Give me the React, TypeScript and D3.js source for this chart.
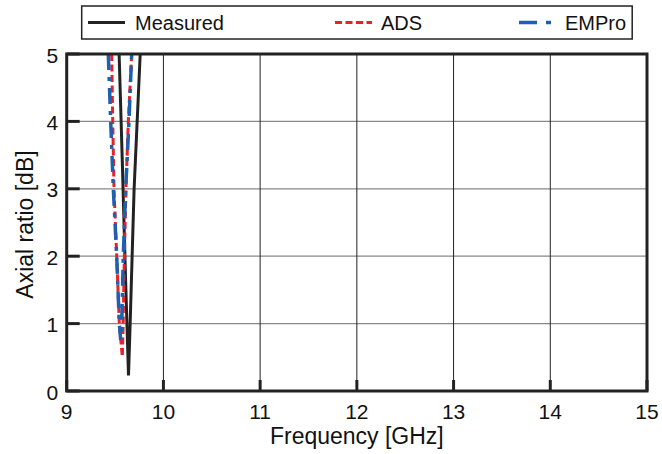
import React from "react";
import * as d3 from "d3";

const xTicks = [9, 10, 11, 12, 13, 14, 15];
const yTicks = [0, 1, 2, 3, 4, 5];

const measuredFreq = [9.542, 9.575, 9.608, 9.639, 9.656, 9.697, 9.76];
const measuredAR = [5, 3.4, 1.7, 0.23, 1, 3, 5];

const adsFreq = [9.465, 9.476, 9.489, 9.517, 9.544, 9.575, 9.584, 9.596, 9.613, 9.637, 9.672];
const adsAR = [5, 4, 3, 2, 1, 0.51, 1, 2, 3, 4, 5];

const emproFreq = [9.43, 9.455, 9.482, 9.517, 9.544, 9.558, 9.569, 9.585, 9.61, 9.644, 9.672];
const emproAR = [5, 4, 3, 2, 1, 0.76, 1, 2, 3, 4, 5];

const W = 662;
const H = 454;
const L = 66.7, R = 647, T = 54, B = 391;

export default function App() {
  const x = d3.scaleLinear().domain([9, 15]).range([L, R]);
  const y = d3.scaleLinear().domain([0, 5]).range([B, T]);
  const line = d3
    .line<[number, number]>()
    .x((d) => x(d[0]))
    .y((d) => y(d[1]));
  const zip = (a: number[], b: number[]) => a.map((v, i) => [v, b[i]] as [number, number]);
  const font = "'Liberation Sans', Arial, Helvetica, sans-serif";
  const red = "#e8202a";
  const blue = "#1f5fb0";
  const dark = "#222";

  return (
    <svg width={W} height={H} style={{ position: "absolute", left: 0, top: 0 }} fontFamily={font}>
      <defs>
        <clipPath id="plotclip">
          <rect x={L} y={T} width={R - L} height={B - T} />
        </clipPath>
      </defs>
      <rect x={0} y={0} width={W} height={H} fill="#fff" />
      {/* grid */}
      {yTicks.slice(1, -1).map((t) => (
        <line key={"gy" + t} x1={L} x2={R} y1={y(t)} y2={y(t)} stroke="#888" strokeWidth={1.3} />
      ))}
      {xTicks.slice(1, -1).map((t) => (
        <line key={"gx" + t} x1={x(t)} x2={x(t)} y1={T} y2={B} stroke={dark} strokeWidth={1} />
      ))}
      {/* ticks */}
      {yTicks.map((t) => (
        <line key={"ty" + t} x1={L} x2={L + 13} y1={y(t)} y2={y(t)} stroke={dark} strokeWidth={3} />
      ))}
      {xTicks.map((t) => (
        <line key={"tx" + t} x1={x(t)} x2={x(t)} y1={B} y2={B - 11} stroke={dark} strokeWidth={3} />
      ))}
      {/* series */}
      <g clipPath="url(#plotclip)" fill="none">
        <path d={line(zip(measuredFreq, measuredAR)) || ""} stroke={dark} strokeWidth={3} />
        <path d={line(zip(adsFreq, adsAR)) || ""} stroke={red} strokeWidth={3} strokeDasharray="7,3.5" />
        <path d={line(zip(emproFreq, emproAR)) || ""} stroke={blue} strokeWidth={3.5} strokeDasharray="16,7,4,7" />
      </g>
      {/* frame */}
      <rect x={L} y={T} width={R - L} height={B - T} fill="none" stroke={dark} strokeWidth={3} />
      {/* tick labels */}
      {xTicks.map((t) => (
        <text key={"lx" + t} x={x(t)} y={419} textAnchor="middle" fontSize={21} fill="#111">
          {t}
        </text>
      ))}
      {yTicks.map((t) => (
        <text key={"ly" + t} x={L - 8.5} y={y(t) + 8.5} textAnchor="end" fontSize={21} fill="#111">
          {t}
        </text>
      ))}
      <text x={(L + R) / 2} y={444} textAnchor="middle" fontSize={23} fill="#111">
        Frequency [GHz]
      </text>
      <text transform={`translate(33,${(T + B) / 2 + 2}) rotate(-90)`} textAnchor="middle" fontSize={23} fill="#111">
        Axial ratio [dB]
      </text>
      {/* legend */}
      <rect x={81.7} y={6} width={550.5} height={33} fill="#fff" stroke={dark} strokeWidth={1.5} />
      <line x1={88} x2={125} y1={22.5} y2={22.5} stroke={dark} strokeWidth={3} />
      <text x={135} y={29.5} fontSize={20} fill="#111">Measured</text>
      <line x1={335} x2={372} y1={22.5} y2={22.5} stroke={red} strokeWidth={3} strokeDasharray="7,3.5" />
      <text x={381} y={29.5} fontSize={20} fill="#111">ADS</text>
      <line x1={519} x2={553} y1={22.5} y2={22.5} stroke={blue} strokeWidth={3.5} strokeDasharray="18,9,5,9" />
      <text x={565} y={29.5} fontSize={20} fill="#111">EMPro</text>
    </svg>
  );
}
